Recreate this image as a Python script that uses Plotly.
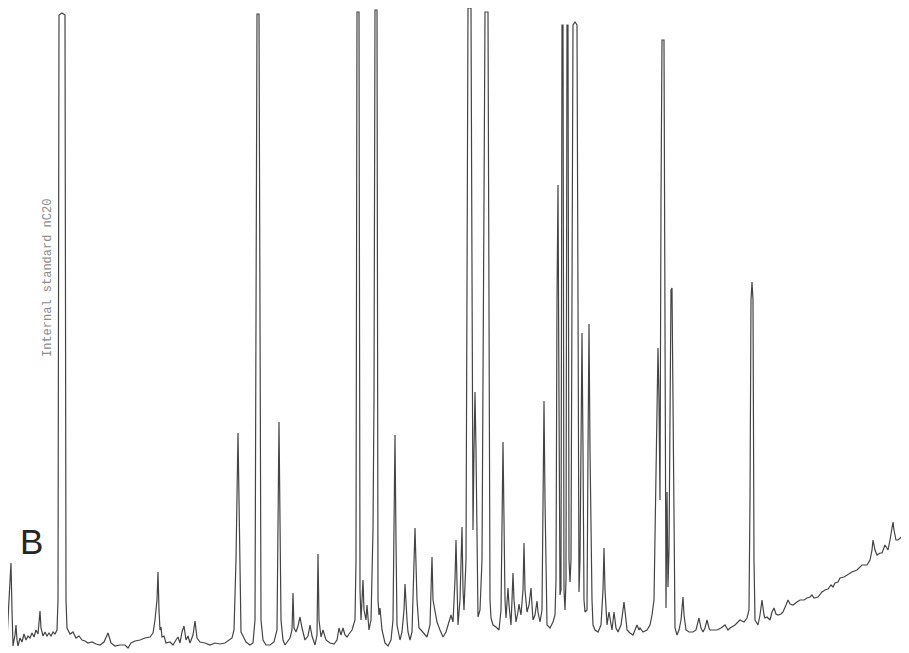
import plotly.graph_objects as go

# Chromatogram trace (retention position, detector response)
time = [5, 7, 9, 11, 12, 13, 15, 16, 17, 18, 20, 22, 24, 26, 28, 30, 32, 34, 36, 38,
        40, 41, 43, 45, 47, 49, 51, 53, 55, 57, 58, 59, 62, 65, 66, 67, 70, 73, 76, 79,
        82, 85, 88, 92, 96, 100, 104, 108, 111, 115, 120, 125, 128, 131, 135, 140, 145, 150, 153, 155,
        157, 158, 159, 160, 161, 162, 164, 166, 170, 173, 176, 178, 180, 182, 184, 186, 188, 190, 193, 195,
        197, 200, 205, 210, 215, 220, 225, 229, 232, 234, 236, 238, 240, 241, 243, 246, 250, 253, 255, 256,
        257, 259, 260, 261, 263, 266, 270, 274, 277, 279, 281, 283, 285, 288, 290, 292, 293, 294, 296, 298,
        300, 302, 305, 308, 310, 312, 315, 317, 318, 319, 321, 323, 326, 330, 334, 337, 339, 341, 343, 345,
        347, 349, 352, 355, 356, 357, 359, 360, 361, 362, 363, 364, 366, 367, 369, 371, 372, 373, 374, 375,
        377, 378, 379, 380, 382, 385, 388, 391, 393, 394, 395, 396, 397, 398, 400, 402, 404, 405, 406, 407,
        408, 410, 412, 413, 415, 417, 419, 421, 424, 427, 430, 432, 433, 435, 437, 440, 443, 446, 449, 451,
        453, 455, 456, 457, 458, 460, 462, 463, 464, 466, 467, 468, 471, 472, 473, 474, 475, 476, 477, 478,
        480, 482, 484, 485, 488, 489, 490, 491, 493, 496, 499, 501, 502, 503, 504, 505, 506, 507, 508, 509,
        511, 512, 513, 514, 516, 518, 519, 520, 521, 523, 524, 525, 527, 529, 531, 532, 533, 535, 537, 538,
        540, 542, 543, 544, 545, 547, 550, 553, 555, 556, 557, 558, 559, 560, 561, 562, 563, 564, 565, 566,
        567, 568, 569, 570, 571, 572, 573, 575, 577, 578, 579, 580, 581, 582, 583, 584, 585, 587, 588, 589,
        590, 591, 592, 593, 595, 598, 601, 603, 604, 605, 607, 609, 611, 612, 614, 616, 618, 621, 623, 624,
        626, 627, 630, 633, 635, 637, 639, 640, 643, 647, 650, 652, 654, 656, 658, 659, 660, 661, 662, 664,
        665, 666, 667, 668, 669, 670, 671, 672, 673, 674, 675, 677, 679, 681, 683, 684, 686, 689, 693, 696,
        698, 699, 701, 703, 705, 707, 709, 710, 714, 717, 721, 725, 728, 730, 735, 740, 744, 747, 749, 750,
        751, 752, 753, 754, 755, 758, 760, 762, 764, 765, 767, 770, 772, 774, 776, 778, 781, 783, 786, 788,
        790, 793, 797, 800, 804, 807, 810, 812, 814, 818, 822, 825, 828, 831, 833, 835, 838, 840, 844, 847,
        852, 857, 862, 867, 870, 872, 873, 875, 877, 880, 882, 885, 887, 888, 890, 892, 893, 894, 896, 898,
        900, 904, 907]

response = [7, 13, 53, 90, 43, 7, 18, 28, 13, 7, 15, 11, 19, 13, 17, 15, 20, 16, 23, 19,
            42, 25, 17, 21, 17, 20, 17, 21, 19, 23, 53, 638, 640, 638, 53, 25, 19, 21, 15, 17,
            13, 12, 10, 11, 9, 8, 11, 20, 10, 7, 8, 8, 5, 10, 12, 13, 15, 16, 20, 33,
            53, 81, 43, 23, 26, 16, 17, 10, 11, 8, 13, 16, 10, 21, 27, 13, 17, 10, 18, 32,
            15, 11, 10, 8, 10, 9, 10, 13, 15, 23, 93, 220, 93, 21, 17, 11, 8, 10, 33, 353,
            639, 639, 353, 33, 13, 8, 8, 11, 23, 231, 33, 13, 8, 13, 15, 23, 60, 25, 21, 27,
            36, 25, 13, 17, 28, 17, 8, 18, 99, 33, 16, 23, 13, 10, 9, 13, 25, 18, 25, 18,
            16, 19, 23, 33, 93, 641, 641, 63, 33, 53, 73, 43, 33, 48, 23, 33, 93, 123, 253, 643,
            643, 53, 38, 45, 23, 10, 7, 13, 33, 133, 218, 113, 28, 23, 13, 21, 43, 69, 43, 33,
            21, 13, 21, 53, 125, 53, 25, 23, 19, 16, 28, 96, 53, 43, 31, 23, 16, 21, 33, 38,
            31, 73, 113, 53, 28, 53, 126, 63, 43, 93, 353, 645, 645, 353, 123, 203, 261, 203, 93, 36,
            43, 93, 453, 641, 641, 353, 53, 35, 28, 26, 23, 43, 133, 211, 133, 53, 35, 48, 65, 48,
            28, 53, 80, 53, 31, 41, 49, 43, 38, 63, 110, 63, 41, 48, 65, 48, 33, 38, 52, 41,
            31, 43, 153, 252, 153, 28, 25, 31, 38, 73, 353, 468, 253, 58, 63, 628, 628, 63, 43, 73,
            628, 628, 93, 71, 93, 453, 628, 631, 628, 353, 61, 93, 253, 320, 203, 53, 41, 43, 203, 329,
            203, 83, 53, 28, 23, 21, 28, 63, 105, 63, 28, 41, 25, 23, 41, 25, 21, 28, 43, 51,
            33, 23, 20, 18, 23, 28, 23, 25, 21, 23, 28, 38, 53, 203, 305, 253, 153, 453, 613, 613,
            253, 45, 161, 66, 103, 253, 363, 365, 253, 73, 25, 18, 23, 33, 56, 38, 23, 21, 21, 23,
            31, 35, 25, 21, 25, 33, 25, 23, 23, 23, 25, 28, 23, 25, 28, 33, 31, 35, 43, 153,
            353, 371, 353, 93, 33, 28, 38, 53, 38, 35, 36, 33, 41, 45, 39, 38, 39, 41, 48, 53,
            49, 48, 51, 53, 53, 55, 56, 58, 55, 56, 61, 63, 64, 68, 66, 70, 71, 75, 76, 78,
            81, 83, 88, 88, 93, 103, 113, 103, 98, 100, 100, 108, 105, 103, 113, 128, 131, 123, 113, 113,
            115, 118, 121]

panel_label = "B"
peak_label = "Internal standard nC20"

fig = go.Figure()
fig.add_trace(go.Scatter(
    x=time, y=response, mode="lines",
    line=dict(color="#444444", width=1.2),
    hoverinfo="skip", showlegend=False,
))

fig.add_annotation(
    x=31, y=112, text=panel_label, showarrow=False,
    font=dict(family="Liberation Sans", size=35, color="#262626"),
    xanchor="center", yanchor="middle",
)
fig.add_annotation(
    x=48, y=375, text=peak_label, showarrow=False, textangle=-90,
    font=dict(family="Liberation Mono", size=12, color="#8a8a8a"),
    xanchor="center", yanchor="middle",
)

# The page body keeps an 8px margin, so the figure covers 8..909 x 8..653
fig.update_layout(
    width=901, height=645,
    margin=dict(l=0, r=0, t=0, b=0),
    paper_bgcolor="white", plot_bgcolor="white",
    xaxis=dict(range=[8, 909], visible=False, fixedrange=True),
    yaxis=dict(range=[0, 645], visible=False, fixedrange=True),
)

fig.write_html("out.html")
